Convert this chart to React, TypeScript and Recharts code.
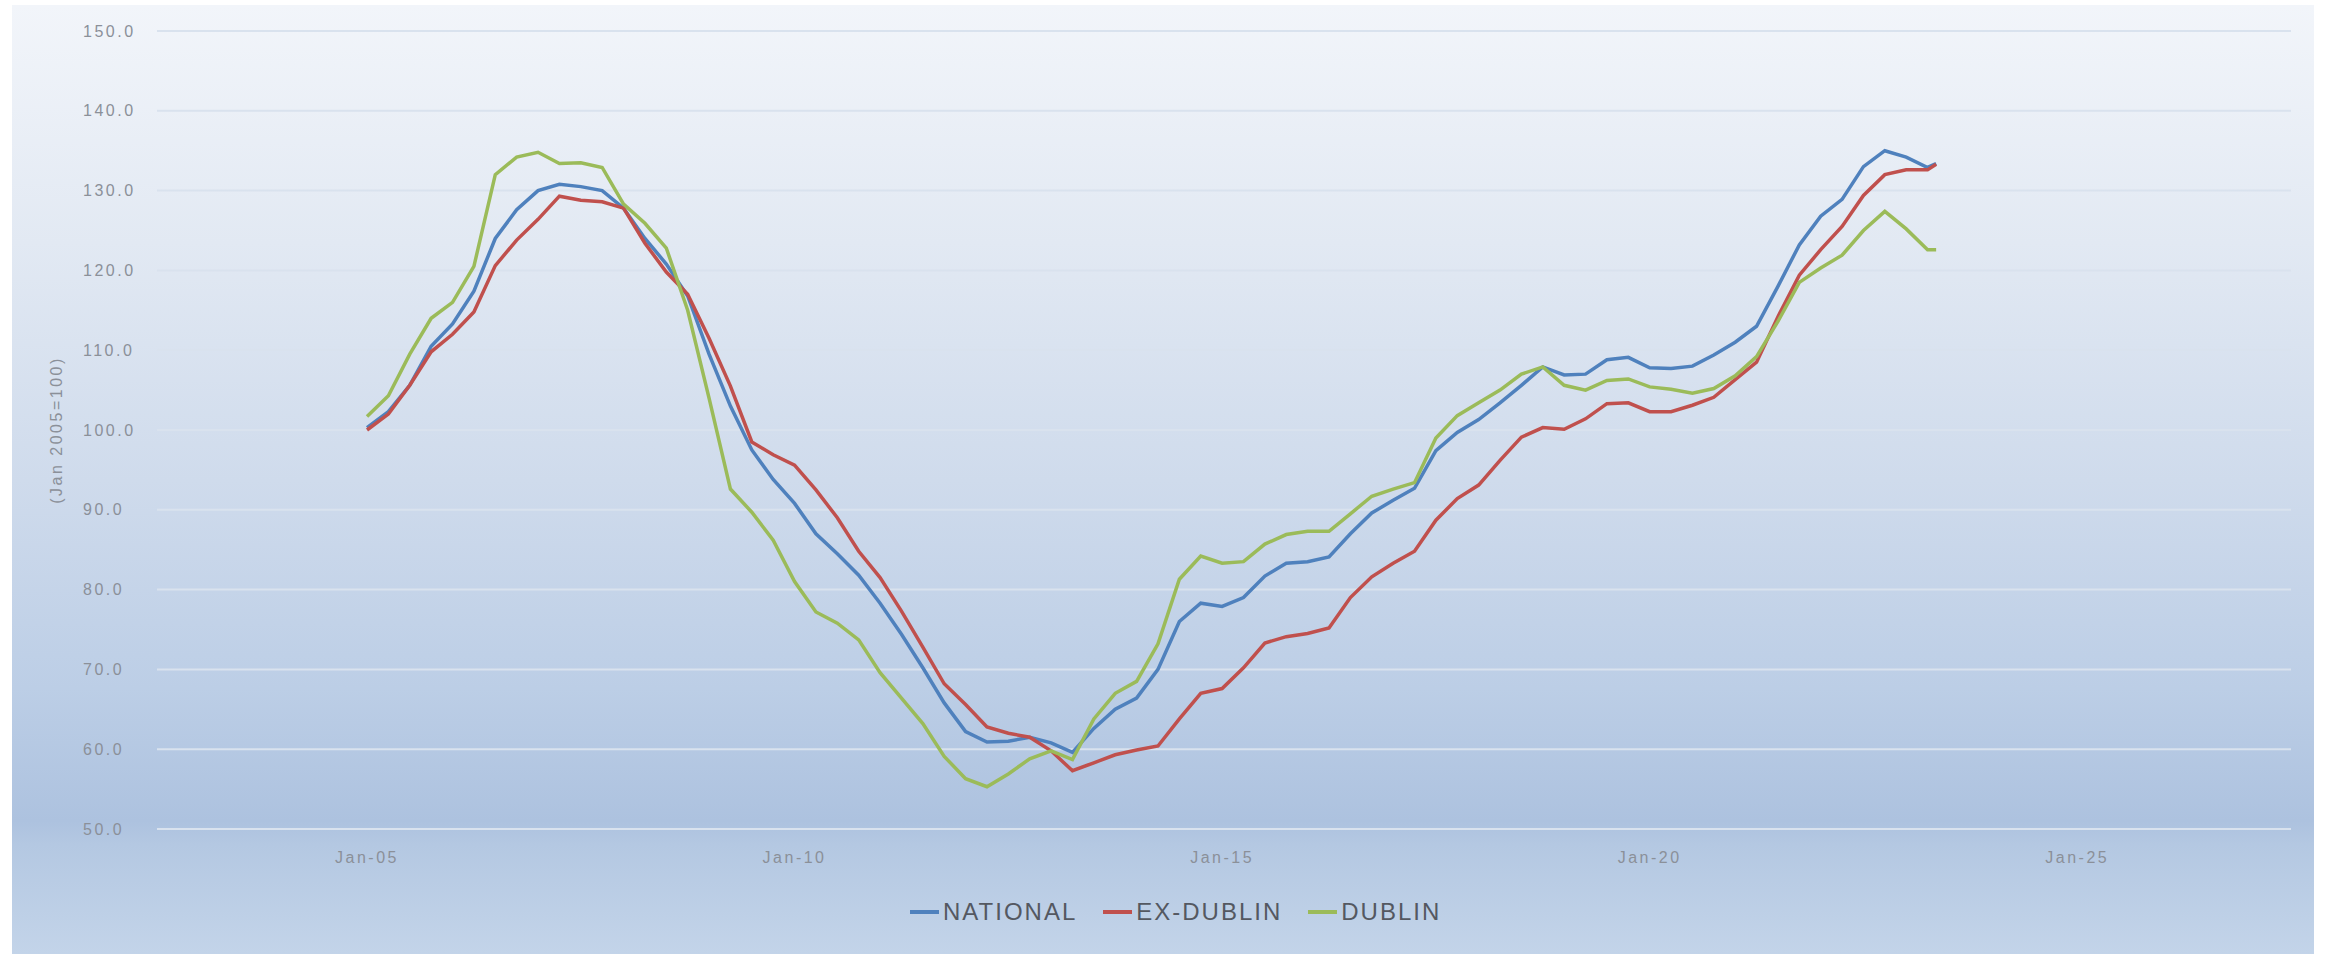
import React from "react";
import { LineChart, Line, XAxis, YAxis, CartesianGrid } from "recharts";

const WIDTH = 2325;
const HEIGHT = 954;

// quarterly dates (decimal years), last point is the latest reading
const dates = [
  2005.0, 2005.25, 2005.5, 2005.75,
  2006.0, 2006.25, 2006.5, 2006.75,
  2007.0, 2007.25, 2007.5, 2007.75,
  2008.0, 2008.25, 2008.5, 2008.75,
  2009.0, 2009.25, 2009.5, 2009.75,
  2010.0, 2010.25, 2010.5, 2010.75,
  2011.0, 2011.25, 2011.5, 2011.75,
  2012.0, 2012.25, 2012.5, 2012.75,
  2013.0, 2013.25, 2013.5, 2013.75,
  2014.0, 2014.25, 2014.5, 2014.75,
  2015.0, 2015.25, 2015.5, 2015.75,
  2016.0, 2016.25, 2016.5, 2016.75,
  2017.0, 2017.25, 2017.5, 2017.75,
  2018.0, 2018.25, 2018.5, 2018.75,
  2019.0, 2019.25, 2019.5, 2019.75,
  2020.0, 2020.25, 2020.5, 2020.75,
  2021.0, 2021.25, 2021.5, 2021.75,
  2022.0, 2022.25, 2022.5, 2022.75,
  2023.0, 2023.25, 2023.35,
];

const national = [
  100.3, 102.3, 105.6, 110.5,
  113.3, 117.4, 124.0, 127.6,
  130.0, 130.8, 130.5, 130.0,
  127.8, 124.0, 120.8, 116.8,
  109.5, 103.0, 97.5, 93.8,
  90.8, 87.0, 84.5, 81.8,
  78.3, 74.4, 70.2, 65.8,
  62.2, 60.9, 61.0, 61.5,
  60.8, 59.6, 62.6, 65.0,
  66.4, 70.0, 76.0, 78.3,
  77.9, 79.0, 81.7, 83.3,
  83.5, 84.1, 87.0, 89.6,
  91.2, 92.7, 97.4, 99.7,
  101.3, 103.4, 105.6, 107.9,
  106.9, 107.0, 108.8, 109.1,
  107.8, 107.7, 108.0, 109.4,
  111.0, 113.0, 118.0, 123.2,
  126.8, 128.9, 133.0, 135.0,
  134.2, 132.9, 133.4,
];

const exDublin = [
  100.0, 102.0, 105.6, 109.8,
  112.0, 114.8, 120.6, 123.8,
  126.4, 129.3, 128.8, 128.6,
  127.8, 123.4, 119.8, 117.0,
  111.5, 105.5, 98.5, 96.9,
  95.6, 92.5, 89.0, 84.8,
  81.5, 77.3, 72.8, 68.2,
  65.6, 62.8, 62.0, 61.5,
  59.8, 57.3, 58.3, 59.3,
  59.9, 60.4, 63.8, 67.0,
  67.6, 70.2, 73.3, 74.1,
  74.5, 75.2, 79.0, 81.6,
  83.3, 84.8, 88.7, 91.4,
  93.1, 96.2, 99.1, 100.3,
  100.1, 101.4, 103.3, 103.4,
  102.3, 102.3, 103.1, 104.1,
  106.3, 108.5, 114.2, 119.4,
  122.6, 125.5, 129.4, 132.0,
  132.6, 132.6, 133.3,
];

const dublin = [
  101.7, 104.3, 109.5, 114.0,
  116.0, 120.5, 132.0, 134.2,
  134.8, 133.4, 133.5, 132.9,
  128.3, 125.9, 122.8, 115.0,
  104.0, 92.6, 89.7, 86.2,
  81.0, 77.2, 75.8, 73.7,
  69.6, 66.4, 63.2, 59.1,
  56.3, 55.3, 56.9, 58.8,
  59.8, 58.7, 63.8, 67.0,
  68.5, 73.2, 81.3, 84.2,
  83.3, 83.5, 85.7, 86.9,
  87.3, 87.3, 89.5, 91.7,
  92.6, 93.4, 99.0, 101.8,
  103.4, 105.0, 107.0, 107.9,
  105.6, 105.0, 106.2, 106.4,
  105.4, 105.1, 104.6, 105.2,
  106.8, 109.2, 113.6, 118.5,
  120.3, 121.9, 125.0, 127.4,
  125.2, 122.6, 122.6,
];

const yTicks = [50, 60, 70, 80, 90, 100, 110, 120, 130, 140, 150];
const xTicks = [2005, 2010, 2015, 2020, 2025];
const xTickLabels = ["Jan-05", "Jan-10", "Jan-15", "Jan-20", "Jan-25"];

const SERIES = [
  { key: "national", name: "NATIONAL", color: "#4f81bd" },
  { key: "exDublin", name: "EX-DUBLIN", color: "#c0504d" },
  { key: "dublin", name: "DUBLIN", color: "#9bbb59" },
];

const FONT = "'Liberation Sans', Arial, sans-serif";
const TICK_COLOR = "#8b9099";

const chartData = dates.map((d, i) => ({
  date: d,
  national: national[i],
  exDublin: exDublin[i],
  dublin: dublin[i],
}));

const YTick = ({ y, payload }: any) => (
  <text
    x={83}
    y={y}
    dominantBaseline="central"
    fill={TICK_COLOR}
    fontSize={16}
    letterSpacing={2.5}
    fontFamily={FONT}
  >
    {Number(payload.value).toFixed(1)}
  </text>
);

const XTick = ({ x, payload }: any) => {
  const idx = xTicks.indexOf(payload.value);
  return (
    <text
      x={x}
      y={857}
      textAnchor="middle"
      dominantBaseline="central"
      fill={TICK_COLOR}
      fontSize={16}
      letterSpacing={2.5}
      fontFamily={FONT}
    >
      {idx >= 0 ? xTickLabels[idx] : ""}
    </text>
  );
};

const App: React.FC = () => {
  return (
    <div
      style={{
        position: "absolute",
        left: 0,
        top: 0,
        width: WIDTH,
        height: HEIGHT,
        background: "#ffffff",
        overflow: "hidden",
      }}
    >
      <div
        style={{
          position: "absolute",
          left: 12,
          top: 5,
          right: 11,
          bottom: 0,
          background:
            "linear-gradient(to bottom, #f2f5fa 0%, #e2e9f3 25%, #cfdbec 50%, #bccee6 72%, #adc2df 86%, #b4c8e2 88.5%, #c3d4e9 100%)",
        }}
      />
      <div style={{ position: "absolute", left: 0, top: 0 }}>
        <LineChart
          width={WIDTH}
          height={HEIGHT}
          data={chartData}
          margin={{ top: 31, right: 34, bottom: 85, left: 0 }}
        >
          <CartesianGrid
            vertical={false}
            stroke="#d9e2ee"
            strokeWidth={2}
          />
          <XAxis
            dataKey="date"
            type="number"
            domain={[2002.544, 2027.5]}
            ticks={xTicks}
            axisLine={false}
            tickLine={false}
            height={40}
            tick={<XTick />}
            interval={0}
          />
          <YAxis
            type="number"
            domain={[50, 150]}
            ticks={yTicks}
            width={157}
            axisLine={false}
            tickLine={false}
            tick={<YTick />}
            interval={0}
            label={{
              content: () => (
                <text
                  x={56}
                  y={430}
                  transform="rotate(-90 56 430)"
                  textAnchor="middle"
                  dominantBaseline="central"
                  fill={TICK_COLOR}
                  fontSize={16}
                  letterSpacing={2.5}
                  fontFamily={FONT}
                >
                  (Jan 2005=100)
                </text>
              ),
            }}
          />
          {SERIES.map((s) => (
            <Line
              key={s.key}
              type="linear"
              dataKey={s.key}
              name={s.name}
              stroke={s.color}
              strokeWidth={3.5}
              dot={false}
              isAnimationActive={false}
            />
          ))}
        </LineChart>
      </div>
      <div
        style={{
          position: "absolute",
          left: 910,
          top: 898,
          display: "flex",
          alignItems: "center",
          fontFamily: FONT,
          fontSize: 24,
          letterSpacing: 2,
          color: "#545861",
        }}
      >
        {SERIES.map((s) => (
          <div
            key={s.key}
            style={{ display: "flex", alignItems: "center", marginRight: 26 }}
          >
            <span
              style={{
                display: "inline-block",
                width: 29,
                height: 4,
                background: s.color,
                marginRight: 4,
              }}
            />
            <span>{s.name}</span>
          </div>
        ))}
      </div>
    </div>
  );
};

export default App;
